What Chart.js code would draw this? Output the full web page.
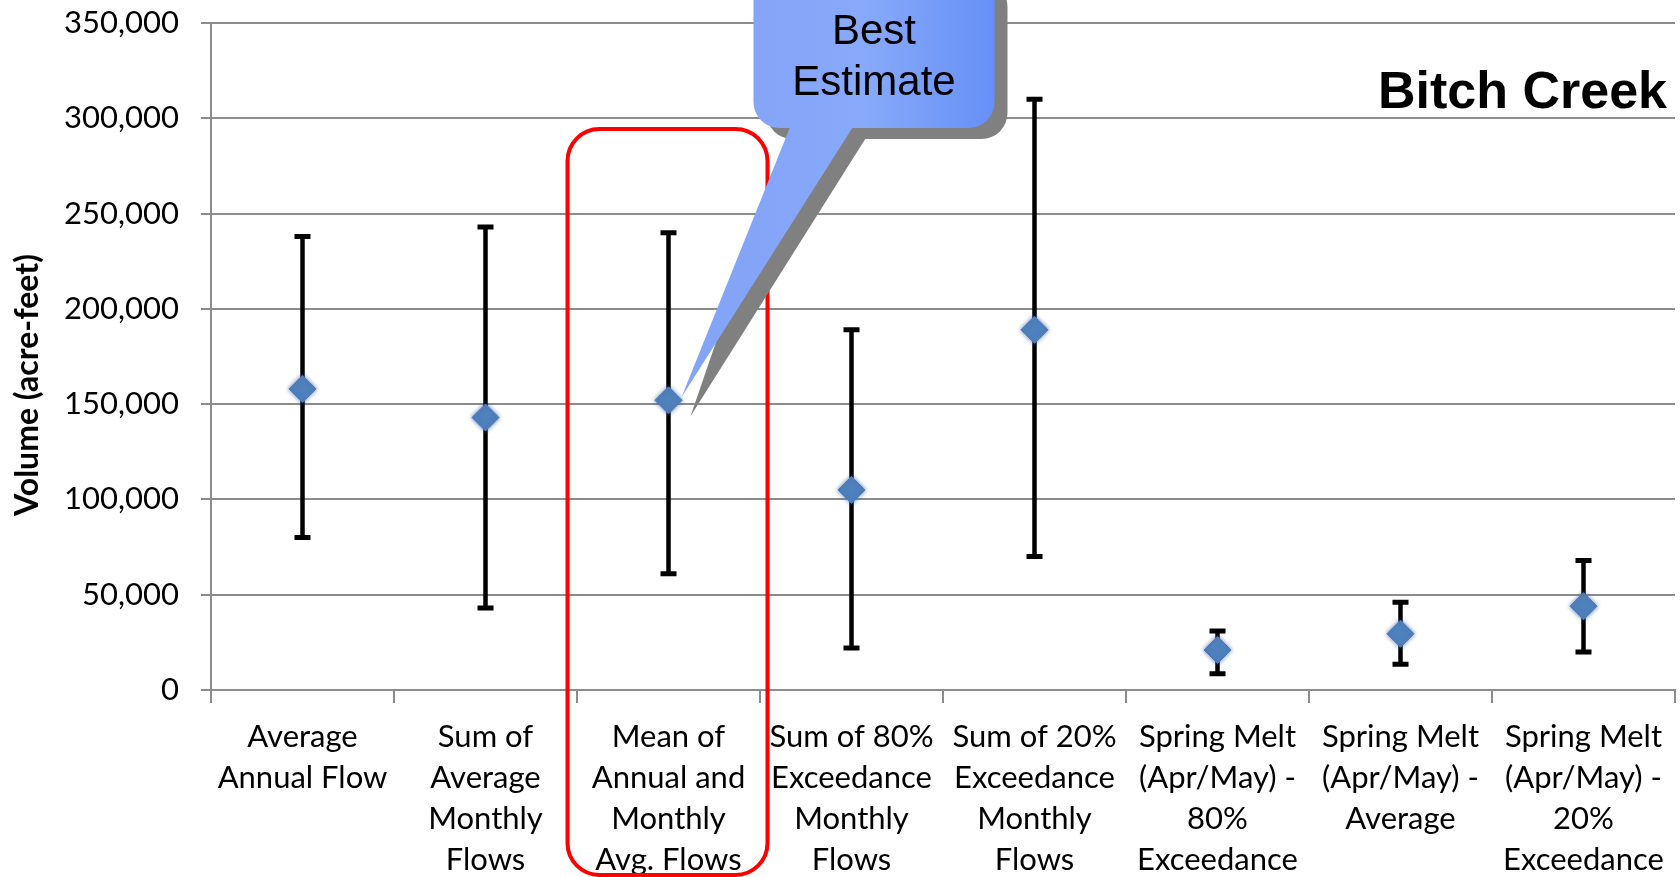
<!DOCTYPE html>
<html><head><meta charset="utf-8">
<style>html,body{margin:0;padding:0;background:#fff;overflow:hidden}#wrap{position:relative;width:1680px;height:877px}</style>
<script src="https://cdn.jsdelivr.net/npm/chart.js@4.4.1/dist/chart.umd.min.js"></script>
</head><body><div id="wrap"><canvas id="c" width="1680" height="877"></canvas></div>
<script>
const categories = [
  ["Average", "Annual Flow"],
  ["Sum of", "Average", "Monthly", "Flows"],
  ["Mean of", "Annual and", "Monthly", "Avg. Flows"],
  ["Sum of 80%", "Exceedance", "Monthly", "Flows"],
  ["Sum of 20%", "Exceedance", "Monthly", "Flows"],
  ["Spring Melt", "(Apr/May) -", "80%", "Exceedance"],
  ["Spring Melt", "(Apr/May) -", "Average"],
  ["Spring Melt", "(Apr/May) -", "20%", "Exceedance"]
];
const estimates   = [158000, 143000, 152000, 105000, 189000, 21000, 29500, 44000];
const lowerBounds = [80000, 43000, 61000, 22000, 70000, 8500, 13500, 20000];
const upperBounds = [238000, 243000, 240000, 189000, 310000, 31000, 46000, 68000];
const yTicks = [0, 50000, 100000, 150000, 200000, 250000, 300000, 350000];
const chartTitle = "Bitch Creek";
const yAxisTitle = "Volume (acre-feet)";
const calloutLines = ["Best", "Estimate"];
const highlightIndex = 2;

const GRID = '#8c8c8c';

const errorBars = {
  id: 'errorBars',
  beforeDatasetsDraw(chart) {
    const {ctx, scales: {x, y}} = chart;
    ctx.save();
    ctx.strokeStyle = '#000';
    ctx.lineCap = 'butt';
    estimates.forEach((v, i) => {
      const px = x.getPixelForValue(i);
      const yl = y.getPixelForValue(lowerBounds[i]);
      const yh = y.getPixelForValue(upperBounds[i]);
      ctx.lineWidth = 4.5;
      ctx.beginPath();
      ctx.moveTo(px, yh); ctx.lineTo(px, yl);
      ctx.stroke();
      ctx.lineWidth = 5;
      ctx.beginPath();
      ctx.moveTo(px - 8, yh); ctx.lineTo(px + 8, yh);
      ctx.moveTo(px - 8, yl); ctx.lineTo(px + 8, yl);
      ctx.stroke();
    });
    ctx.restore();
  },
  beforeDatasetDraw(chart) {
    const ctx = chart.ctx;
    ctx.save();
    ctx.shadowColor = 'rgba(60,100,160,0.8)';
    ctx.shadowBlur = 4;
  },
  afterDatasetDraw(chart) {
    chart.ctx.restore();
  }
};

const decorations = {
  id: 'decorations',
  afterDatasetsDraw(chart) {
    const {ctx, chartArea, scales: {x, y}} = chart;
    const cx = x.getPixelForValue(highlightIndex);
    ctx.save();
    ctx.strokeStyle = '#ff0000';
    ctx.lineWidth = 4;
    ctx.beginPath();
    ctx.roundRect(cx - 101, chartArea.top + 106, 200, 746, 32);
    ctx.stroke();
    ctx.restore();

    const pt = chart.getDatasetMeta(0).data[highlightIndex];
    const px = pt.x, py = pt.y;
    const L = px + 85, R = px + 326, T = -30, B = chartArea.top + 105;
    const sh = 13, sv = 11;
    ctx.save();
    ctx.fillStyle = '#808080';
    ctx.beginPath();
    ctx.roundRect(L + sh, T + sv, R - L, B - T, 26);
    ctx.fill();
    ctx.beginPath();
    ctx.moveTo(px + 118, B + sv - 2);
    ctx.lineTo(px + 22, py + 16);
    ctx.lineTo(px + 198, B + sv - 2);
    ctx.closePath();
    ctx.fill();
    const g = ctx.createLinearGradient(L, 0, R, 0);
    g.addColorStop(0, '#84a4f8');
    g.addColorStop(0.45, '#88aaf9');
    g.addColorStop(1, '#6690f7');
    ctx.fillStyle = g;
    ctx.beginPath();
    ctx.roundRect(L, T, R - L, B - T, 26);
    ctx.fill();
    ctx.beginPath();
    ctx.moveTo(px + 122, B - 2);
    ctx.lineTo(px + 13, py - 3);
    ctx.lineTo(px + 185, B - 2);
    ctx.closePath();
    ctx.fill();
    ctx.fillStyle = '#000';
    ctx.font = "42px 'Liberation Sans', Arial, sans-serif";
    ctx.textAlign = 'center';
    ctx.textBaseline = 'middle';
    const tx = (L + R) / 2;
    ctx.fillText(calloutLines[0], tx, 32);
    ctx.fillText(calloutLines[1], tx, 83);
    ctx.restore();
  },
  afterDraw(chart) {
    const {ctx, chartArea} = chart;
    ctx.save();
    ctx.fillStyle = '#000';
    ctx.font = "bold 52px 'Liberation Sans', Arial, sans-serif";
    ctx.textAlign = 'right';
    ctx.textBaseline = 'alphabetic';
    ctx.fillText(chartTitle, chartArea.right - 8, 108);
    ctx.translate(28, 385);
    ctx.rotate(-Math.PI / 2);
    ctx.font = "bold 32px Lato, sans-serif";
    ctx.textAlign = 'center';
    ctx.textBaseline = 'middle';
    ctx.fillText(yAxisTitle, 0, 0);
    ctx.restore();
  }
};

function noPad(s) { s.paddingLeft = 0; s.paddingRight = 0; s.paddingTop = 0; s.paddingBottom = 0; }

new Chart(document.getElementById('c'), {
  type: 'line',
  data: {
    labels: categories,
    datasets: [{
      data: estimates,
      showLine: false,
      pointStyle: 'rectRot',
      pointRadius: 13.5,
      pointHoverRadius: 13.5,
      pointBackgroundColor: '#4f81bd',
      pointBorderColor: '#4a7ab6',
      pointBorderWidth: 1
    }]
  },
  options: {
    responsive: false,
    animation: false,
    devicePixelRatio: 1,
    events: [],
    layout: {autoPadding: false, padding: {top: 23, right: 5, left: 0, bottom: 0}},
    plugins: {legend: {display: false}, tooltip: {enabled: false}, title: {display: false}},
    scales: {
      x: {
        type: 'category',
        offset: true,
        grid: {offset: true, drawOnChartArea: false, drawTicks: true, tickLength: 13, color: GRID, lineWidth: 2},
        border: {display: true, color: GRID, width: 2},
        ticks: {autoSkip: false, maxRotation: 0, minRotation: 0, padding: 14, color: '#000',
                font: {family: 'Lato', size: 31, lineHeight: 1.32}},
        afterFit(s) { s.height = 187; noPad(s); }
      },
      y: {
        min: 0, max: 350000,
        grid: {color: GRID, lineWidth: 2, tickLength: 10, drawTicks: true},
        border: {display: true, color: GRID, width: 2},
        ticks: {padding: 22, color: '#000', font: {family: 'Lato', size: 31},
                callback: v => Number(v).toLocaleString('en-US')},
        afterBuildTicks(s) { s.ticks = yTicks.map(v => ({value: v})); },
        afterFit(s) { s.width = 211; noPad(s); }
      }
    }
  },
  plugins: [errorBars, decorations]
});
</script>
</body></html>
